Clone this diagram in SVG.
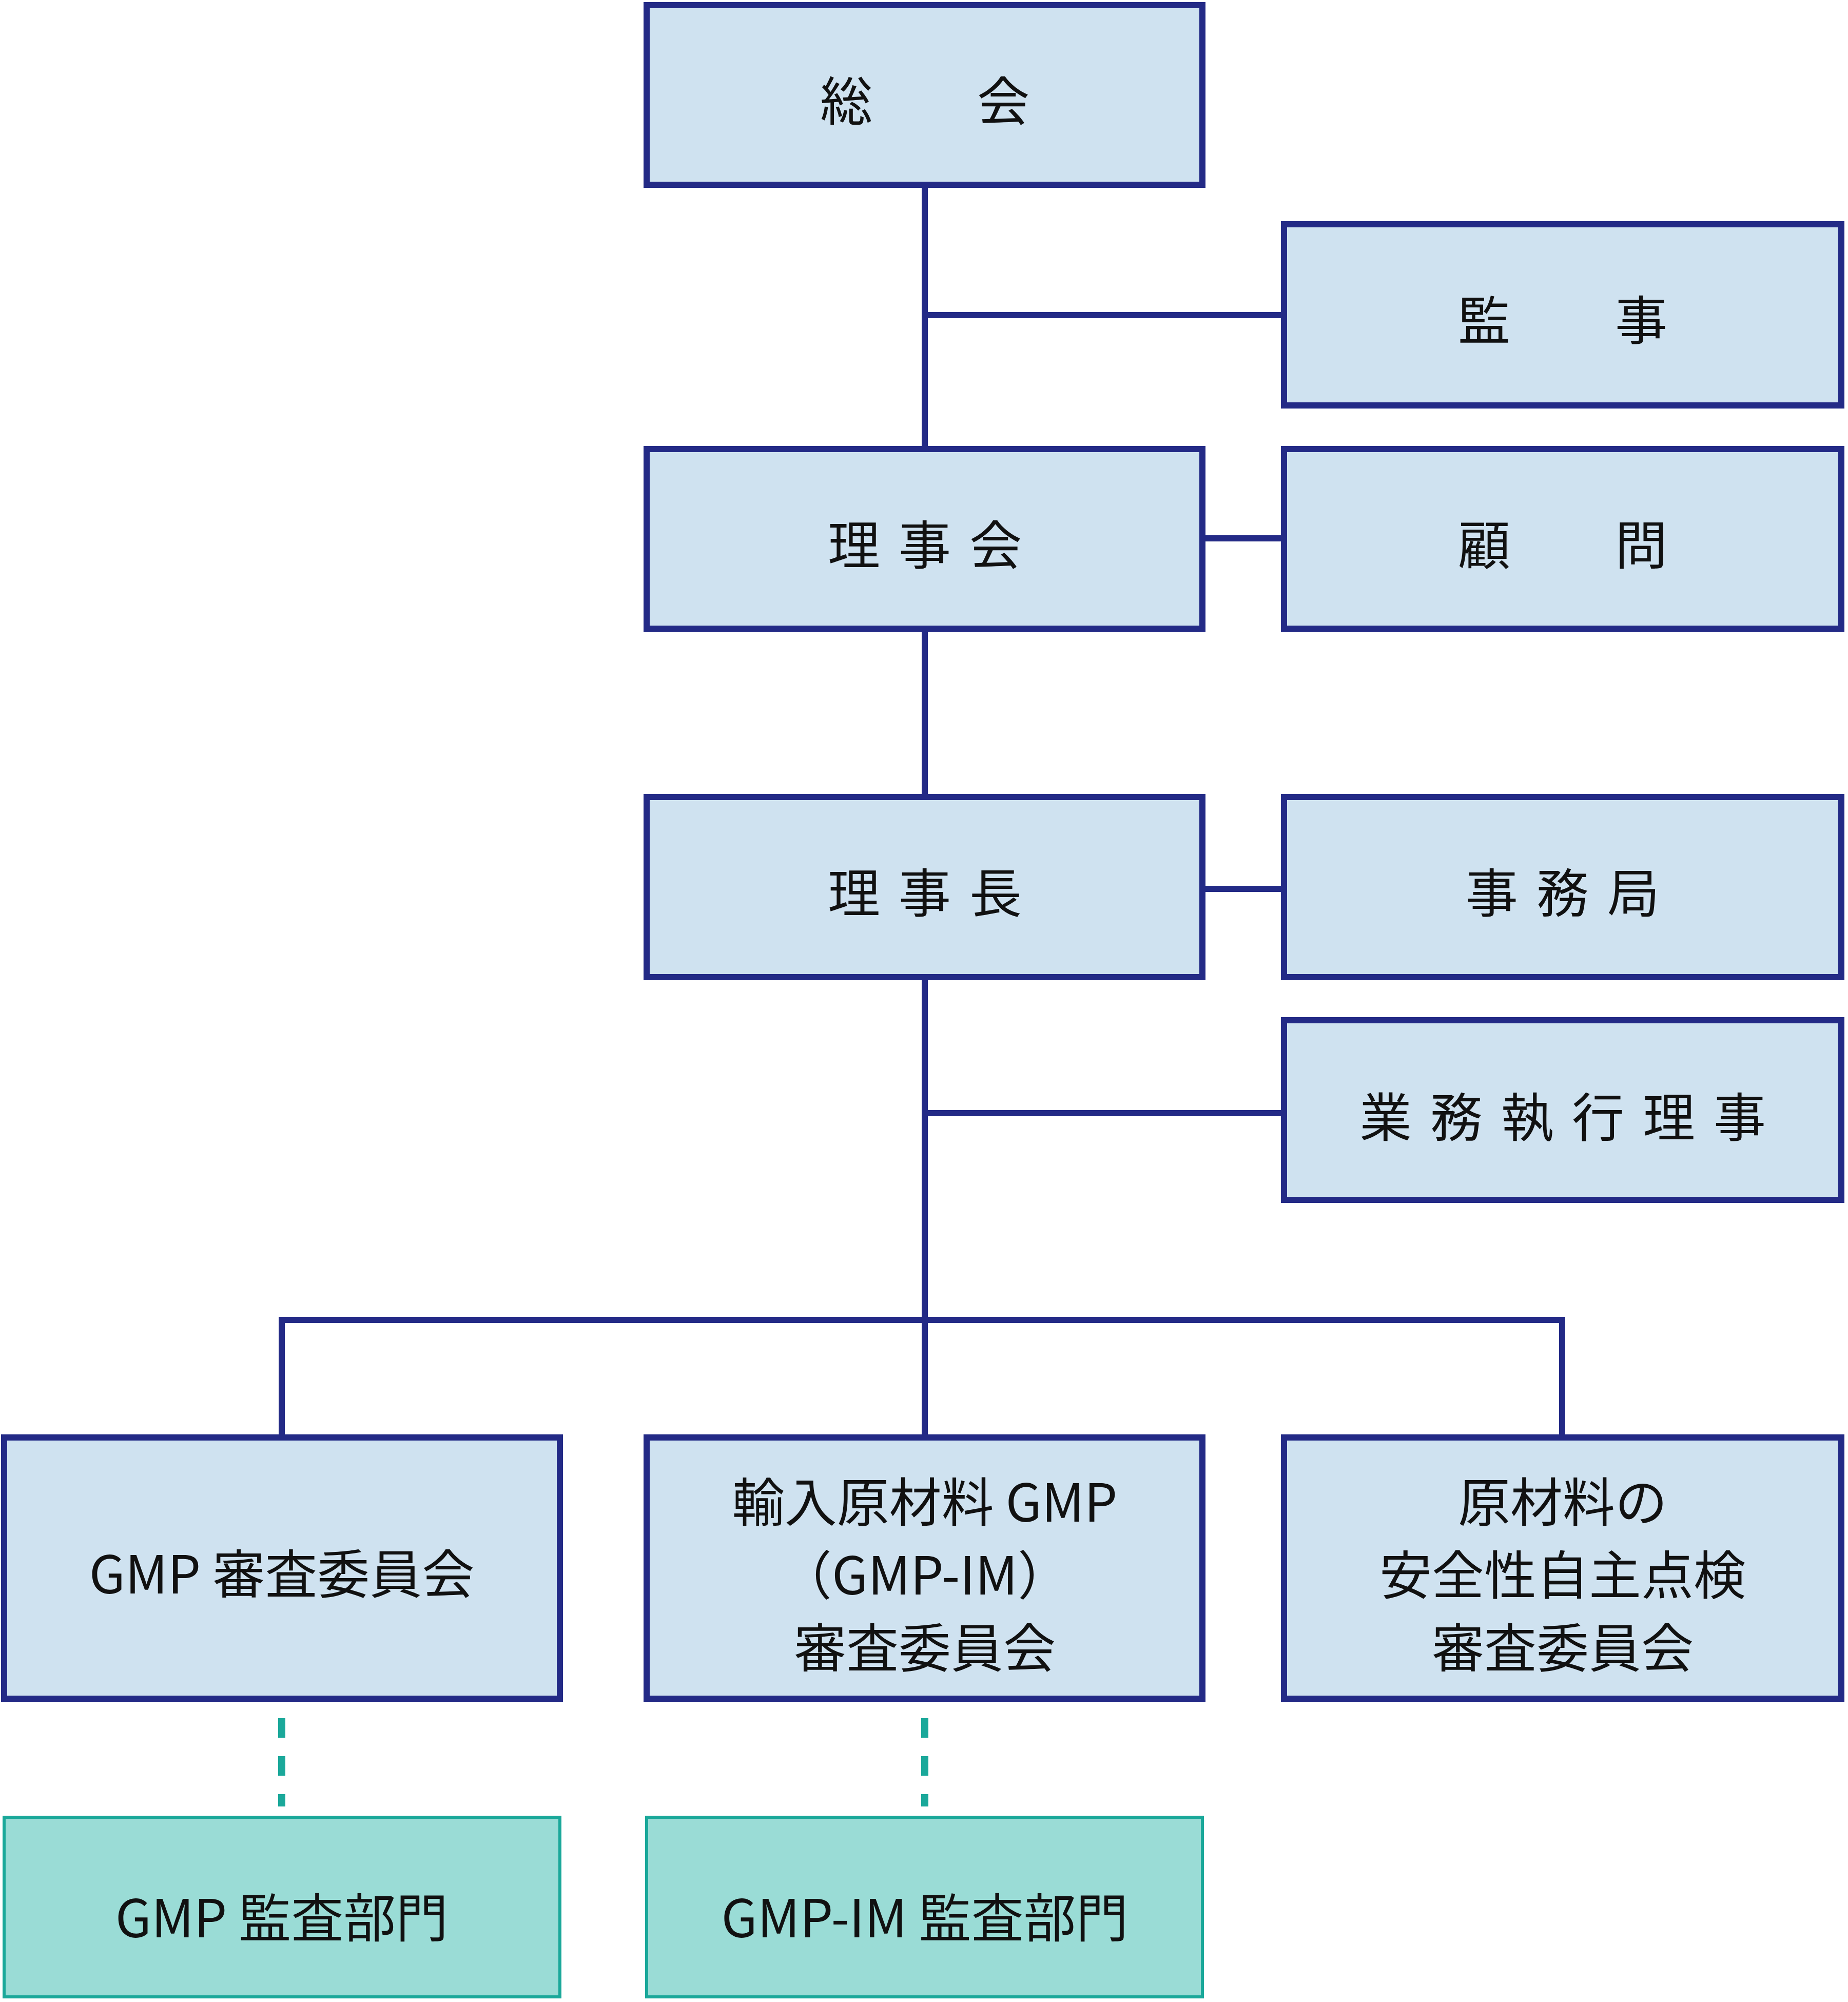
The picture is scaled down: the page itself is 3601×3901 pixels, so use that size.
<svg xmlns="http://www.w3.org/2000/svg" width="3601" height="3901" viewBox="0 0 3601 3901">
<style>
.b{fill:#cfe2f0;stroke:#232a86;stroke-width:12}
.t{fill:#9adcd6;stroke:#1aa89a;stroke-width:6}
.l{fill:none;stroke:#232a86;stroke-width:12}
.d{fill:none;stroke:#1aa89a;stroke-width:14;stroke-dasharray:38 36}
text{font-family:"Noto Sans CJK JP","Noto Sans",sans-serif;font-size:102px;fill:#111;text-anchor:middle;dominant-baseline:central}
.s{letter-spacing:36px}
</style>
<rect width="3601" height="3901" fill="#fff"/>
<g id="connectors">
<path class="l" d="M1802 360V2801M1802 614H2502M2343 1049H2502M2343 1732H2502M1802 2169H2502M549 2801V2572H3044V2801"/>
<path class="d" d="M549 3348V3520M1802 3348V3520"/>
</g>
<g id="n1"><rect class="b" x="1260" y="10" width="1083" height="350"/><text x="1802" y="190" xml:space="preserve">総　　会</text></g>
<g id="n2"><rect class="b" x="2502" y="437" width="1086" height="353"/><text x="3045" y="617" xml:space="preserve">監　　事</text></g>
<g id="n3"><rect class="b" x="1260" y="875" width="1083" height="350"/><text class="s" x="1820" y="1055">理事会</text></g>
<g id="n4"><rect class="b" x="2502" y="875" width="1086" height="350"/><text x="3045" y="1055" xml:space="preserve">顧　　問</text></g>
<g id="n5"><rect class="b" x="1260" y="1553" width="1083" height="351"/><text class="s" x="1820" y="1733">理事長</text></g>
<g id="n6"><rect class="b" x="2502" y="1553" width="1086" height="351"/><text class="s" x="3063" y="1733">事務局</text></g>
<g id="n7"><rect class="b" x="2502" y="1988" width="1086" height="350"/><text class="s" x="3063" y="2170">業務執行理事</text></g>
<g id="n8"><rect class="b" x="8" y="2801" width="1083" height="509"/><text x="549" y="3060">GMP 審査委員会</text></g>
<g id="n9"><rect class="b" x="1260" y="2801" width="1083" height="509"/><text x="1802" y="2920">輸入原材料 GMP</text><text x="1802" y="3062">（GMP-IM）</text><text x="1802" y="3204">審査委員会</text></g>
<g id="n10"><rect class="b" x="2502" y="2801" width="1086" height="509"/><text x="3045" y="2920">原材料の</text><text x="3045" y="3062">安全性自主点検</text><text x="3045" y="3204">審査委員会</text></g>
<g id="n11"><rect class="t" x="8" y="3541" width="1083" height="350"/><text x="549" y="3730">GMP 監査部門</text></g>
<g id="n12"><rect class="t" x="1260" y="3541" width="1083" height="350"/><text x="1802" y="3730">GMP-IM 監査部門</text></g>
</svg>
